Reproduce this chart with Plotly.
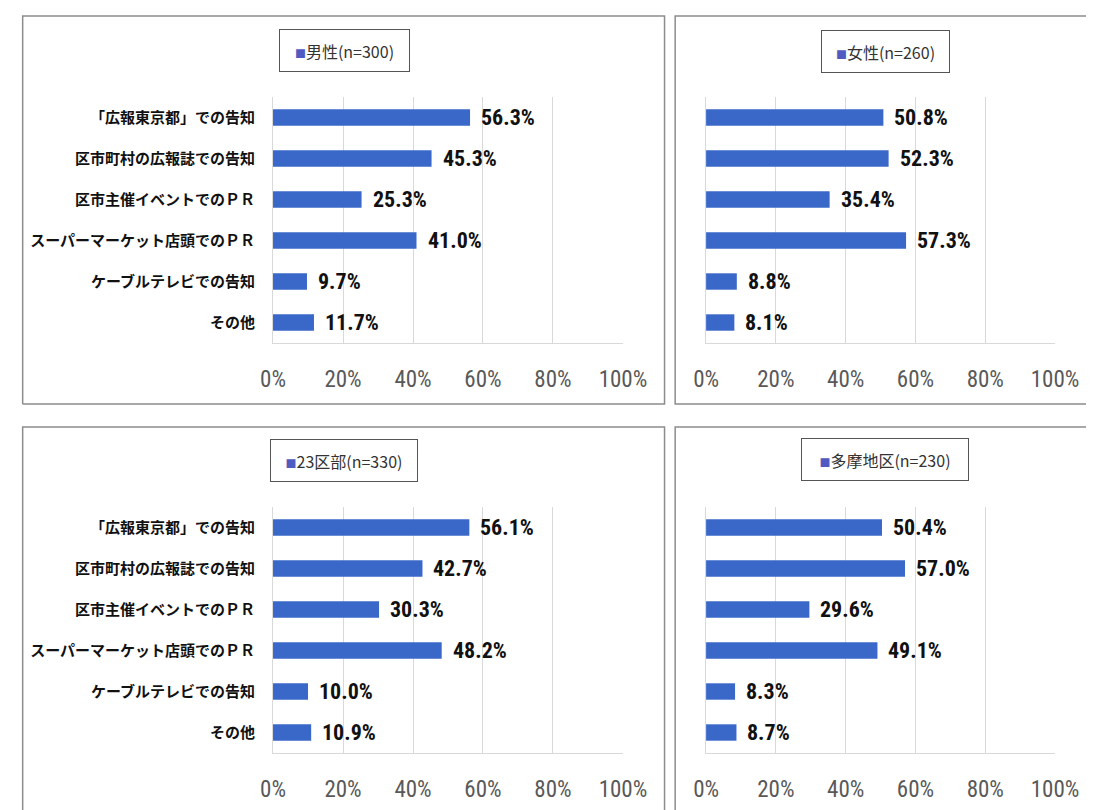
import plotly.graph_objects as go

# Survey categories (top to bottom)
categories = [
    "「広報東京都」での告知",
    "区市町村の広報誌での告知",
    "区市主催イベントでのＰＲ",
    "スーパーマーケット店頭でのＰＲ",
    "ケーブルテレビでの告知",
    "その他",
]

# Group names shown in each panel's legend box
groups = ["男性(n=300)", "女性(n=260)", "23区部(n=330)", "多摩地区(n=230)"]

# Percentages per group
male = [56.3, 45.3, 25.3, 41.0, 9.7, 11.7]
female = [50.8, 52.3, 35.4, 57.3, 8.8, 8.1]
ward23 = [56.1, 42.7, 30.3, 48.2, 10.0, 10.9]
tama = [50.4, 57.0, 29.6, 49.1, 8.3, 8.7]

tick_values = [0, 20, 40, 60, 80, 100]
tick_labels = ["0%", "20%", "40%", "60%", "80%", "100%"]

series = [male, female, ward23, tama]

W, H = 1110, 810
BAR = "#3A68C8"
GRID = "#d9d9d9"
NUM = "Roboto, sans-serif"
CJK = "Noto Sans CJK JP, sans-serif"


def narrow(s):
    return f"<span style='font-stretch:condensed'>{s}</span>"


def px(x):
    return x / W


def py(y):
    return 1 - y / H


# panel frames as open outlines (pixels); right / bottom edges run off the page
frame_paths = [
    [(10, 404), (10, 16), (674, 16), (674, 404), (10, 404)],
    [(1110, 16), (685, 16), (685, 404), (1110, 404)],
    [(10, 810), (10, 427), (674, 427), (674, 810)],
    [(1110, 427), (685, 427), (685, 810)],
]
# plot areas (pixels): left, top, right, bottom
plots = [(269, 97, 631, 343), (717, 97, 1078, 343), (269, 507, 631, 753), (717, 507, 1078, 753)]
# legend boxes: centre x, centre y, width
legend_boxes = [(342.5, 50.5, 129), (902.5, 51, 127), (342, 460, 146), (902, 459, 166)]

fig = go.Figure()
layout = dict(
    width=W,
    height=H,
    margin=dict(l=0, r=0, t=0, b=0),
    paper_bgcolor="white",
    plot_bgcolor="white",
    showlegend=False,
    shapes=[],
    annotations=[],
)

for i, (vals, name) in enumerate(zip(series, groups)):
    k = "" if i == 0 else str(i + 1)
    xa, ya = "x" + k, "y" + k
    fig.add_trace(
        go.Bar(
            x=vals,
            y=categories,
            orientation="h",
            width=0.4,
            marker=dict(color=BAR, line=dict(width=0)),
            name=name,
            xaxis=xa,
            yaxis=ya,
            hoverinfo="skip",
        )
    )
    l, t, r, b = plots[i]
    layout["xaxis" + k] = dict(
        domain=[px(l), px(r)],
        anchor=ya,
        range=[0, 100],
        tickvals=tick_values,
        ticktext=[narrow(s) for s in tick_labels],
        showgrid=True,
        gridcolor=GRID,
        gridwidth=1,
        zeroline=False,
        showline=True,
        linecolor=GRID,
        linewidth=1,
        ticks="outside",
        ticklen=15,
        tickcolor="rgba(0,0,0,0)",
        tickfont=dict(family=NUM, size=23, color="#595959"),
        fixedrange=True,
    )
    layout["yaxis" + k] = dict(
        domain=[py(b), py(t)],
        anchor=xa,
        type="category",
        categoryorder="array",
        categoryarray=categories,
        autorange="reversed",
        showgrid=False,
        zeroline=False,
        showline=True,
        linecolor=GRID,
        linewidth=1,
        showticklabels=(i % 2 == 0),
        ticks="outside",
        ticklen=14,
        tickcolor="rgba(0,0,0,0)",
        tickfont=dict(family=CJK, size=15, color="#111111", weight="bold"),
        fixedrange=True,
    )
    # value labels beside each bar
    for c, v in zip(categories, vals):
        layout["annotations"].append(
            dict(
                x=v,
                y=c,
                xref=xa,
                yref=ya,
                text=narrow(f"{v:.1f}%"),
                showarrow=False,
                xanchor="left",
                yanchor="middle",
                xshift=9,
                font=dict(family=NUM, size=22, color="#111111", weight="bold"),
            )
        )
    # panel frame
    pts = frame_paths[i]
    path = "M " + " L ".join(f"{px(x):.5f},{py(y):.5f}" for x, y in pts)
    layout["shapes"].append(
        dict(
            type="path",
            xref="paper",
            yref="paper",
            path=path,
            line=dict(color="#8c8c8c", width=1.5),
            layer="below",
        )
    )
    # legend box
    cx, cy, bw = legend_boxes[i]
    layout["annotations"].append(
        dict(
            x=px(cx),
            y=py(cy),
            xref="paper",
            yref="paper",
            xanchor="center",
            yanchor="middle",
            showarrow=False,
            width=bw,
            height=41,
            align="center",
            valign="middle",
            bordercolor="#555555",
            borderwidth=1,
            borderpad=0,
            bgcolor="white",
            text=f"<span style='color:#4F5BC0;font-size:11px'>■</span>{name}",
            font=dict(family=CJK, size=16, color="#333333"),
        )
    )

fig.update_layout(**layout)
# keep the figure flush with the page corner
fig.write_html(
    "out.html",
    post_script="document.body.style.margin='0';document.body.style.overflow='hidden';",
)
